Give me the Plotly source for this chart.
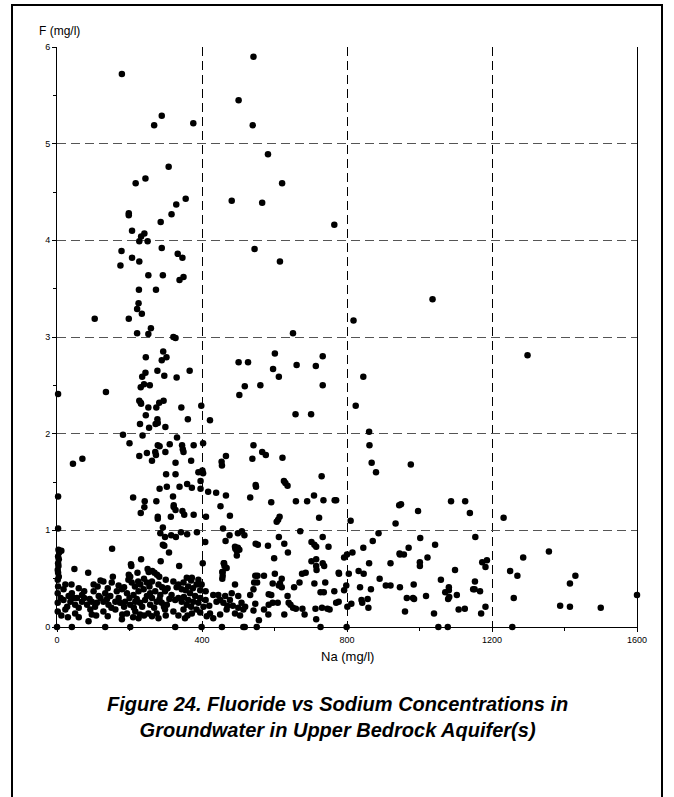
import plotly.graph_objects as go

# Upper scatter (F > ~2)
na_upper = [179,268,289,376,501,308,244,217,355,329,482,198,198,316,286,207,
            542,540,582,621,566,765,
            241,232,227,250,289,178,333,346,207,227,175,252,292,349,338,226,273,225,221,234,104,198,
            259,221,252,321,327,293,245,302,289,501,277,366,244,296,235,330,240,256,231,3,135,503,
            227,231,232,282,294,252,274,343,398,245,277,361,422,
            545,615,818,651,601,733,527,661,714,596,612,845,518,561,733,824,658,701,
            1036,1298]
f_upper = [5.72,5.19,5.29,5.21,5.45,4.76,4.64,4.59,4.43,4.37,4.41,4.28,4.26,4.27,4.19,4.10,
           5.90,5.19,4.89,4.59,4.39,4.16,
           4.07,4.04,3.99,3.99,3.92,3.89,3.86,3.82,3.82,3.78,3.74,3.64,3.64,3.62,3.59,3.49,3.49,3.35,3.29,3.24,3.19,3.19,
           3.09,3.04,3.03,3.00,2.99,2.85,2.79,2.79,2.76,2.74,2.65,2.65,2.63,2.60,2.59,2.58,2.51,2.50,2.48,2.41,2.43,2.40,
           2.34,2.32,2.31,2.32,2.34,2.27,2.27,2.27,2.29,2.19,2.15,2.15,2.14,
           3.91,3.78,3.17,3.04,2.83,2.80,2.74,2.71,2.70,2.67,2.59,2.59,2.49,2.50,2.50,2.29,2.20,2.20,
           3.39,2.81]

# Middle band (F ~0.5 - 2.1), Na < 520
na_mid = [229,254,272,278,299,182,236,200,331,403,278,283,311,345,377,347,349,248,271,273,299,227,
          44,70,262,370,466,454,455,327,301,327,390,401,403,396,396,359,303,283,338,372,417,439,
          210,466,3,320,242,241,274,322,322,231,327,346,351,377,411,314,278,278,451,477,3,292,458,
          285,298,315,328,342,359,386,476,499,465,409,292,296,152,492,496,309,
          4,6,3,5,3,4,2,3,5,2,3,2,12,
          460,462,286,232,204,205,402,337,457,457,48,86,250,253,263,269,276,282,198,202,
          510,517,461,468,456,456,491,499,503,496]
f_mid = [2.10,2.06,2.10,2.11,2.07,1.99,1.98,1.90,1.96,1.90,1.88,1.87,1.89,1.88,1.88,1.84,1.81,1.80,1.81,1.78,1.81,1.77,
         1.69,1.74,1.72,1.72,1.77,1.71,1.67,1.70,1.58,1.58,1.60,1.62,1.59,1.51,1.43,1.48,1.45,1.43,1.45,1.44,1.40,1.39,
         1.34,1.36,1.35,1.35,1.30,1.24,1.30,1.26,1.24,1.18,1.21,1.20,1.16,1.16,1.14,1.14,1.14,1.12,1.25,1.15,1.02,1.03,1.02,
         0.97,0.93,0.95,0.93,0.98,0.96,0.98,0.95,0.97,0.89,0.88,0.85,0.84,0.81,0.81,0.79,0.77,
         0.80,0.77,0.73,0.70,0.66,0.63,0.59,0.56,0.52,0.49,0.42,0.35,0.79,
         0.66,0.63,0.68,0.70,0.65,0.63,0.66,0.63,0.57,0.53,0.60,0.56,0.60,0.57,0.58,0.56,0.54,0.52,0.54,0.52,
         0.99,0.95,0.66,0.61,0.57,0.50,0.83,0.82,0.80,0.74]

# Dense low cluster (F < 0.6), Na < 530
na_low = [222,154,358,372,
          23,101,128,151,197,206,224,248,262,280,321,335,349,362,385,399,491,
          18,32,41,55,69,101,115,133,147,165,179,193,211,225,239,248,257,271,285,298,316,344,367,381,431,445,464,482,500,
          18,2,37,50,69,83,96,110,128,142,161,174,188,202,216,229,243,257,275,289,303,326,344,358,376,390,404,440,459,477,509,519,
          2,23,50,92,96,128,161,193,216,229,252,275,298,321,349,372,385,422,468,491,514,
          87,179,225,280,353,413,431,
          0,41,133,202,326,399,455,514,
          10,28,45,60,75,90,105,120,138,150,170,185,200,212,220,235,262,268,283,295,310,335,350,362,370,395,410,420,450,470,485,500,
          12,30,60,108,140,180,210,240,262,300,335,360,395,450,505,
          112,140,170,185,215,230,255,290,305,330,355,375,395,410,60,75,40,120,240,300,370,390]
f_low = [0.56,0.52,0.51,0.51,
         0.44,0.44,0.47,0.46,0.49,0.46,0.47,0.46,0.47,0.44,0.47,0.44,0.46,0.42,0.44,0.44,0.44,
         0.39,0.32,0.35,0.30,0.33,0.37,0.32,0.35,0.32,0.37,0.39,0.35,0.33,0.37,0.39,0.32,0.35,0.37,0.33,0.37,0.33,0.39,0.35,0.32,0.33,0.33,0.32,0.35,0.32,
         0.28,0.25,0.26,0.23,0.26,0.23,0.26,0.25,0.26,0.23,0.26,0.25,0.26,0.23,0.26,0.25,0.28,0.23,0.26,0.25,0.23,0.28,0.26,0.23,0.26,0.25,0.21,0.26,0.25,0.28,0.25,0.21,
         0.16,0.18,0.14,0.18,0.13,0.16,0.18,0.14,0.16,0.13,0.14,0.14,0.18,0.16,0.18,0.14,0.18,0.14,0.18,0.14,0.18,
         0.06,0.08,0.09,0.09,0.09,0.11,0.09,
         0.0,0.0,0.0,0.0,0.0,0.0,0.0,0.0,
         0.30,0.21,0.30,0.20,0.30,0.29,0.21,0.30,0.29,0.20,0.30,0.21,0.30,0.20,0.29,0.21,0.30,0.20,0.29,0.21,0.29,0.30,0.31,0.28,0.21,0.30,0.28,0.22,0.28,0.22,0.22,0.20,
         0.12,0.10,0.10,0.12,0.11,0.13,0.10,0.12,0.11,0.12,0.12,0.12,0.15,0.13,0.12,
         0.42,0.40,0.43,0.41,0.42,0.44,0.42,0.41,0.40,0.41,0.38,0.40,0.38,0.37,0.40,0.37,0.44,0.48,0.50,0.49,0.48,0.49]

# Na 530 - 950 range
na_right = [542,539,566,576,622,548,549,533,591,626,630,636,659,690,709,730,735,766,770,
            610,606,614,671,723,810,944,934,612,548,554,582,627,637,702,710,715,733,749,
            599,702,715,715,733,737,716,777,792,800,815,845,871,887,861,920,945,
            861,862,868,880,
            547,553,571,601,620,615,595,544,552,542,533,584,591,612,620,636,669,654,676,686,
            710,727,736,765,740,778,792,798,805,832,846,836,866,890,907,920,
            547,542,557,571,584,595,609,583,627,639,644,659,677,651,683,713,715,731,746,752,
            770,777,801,812,842,840,859,857,
            518,551,727,799]
f_right = [1.88,1.74,1.81,1.78,1.75,1.47,1.45,1.34,1.29,1.51,1.49,1.46,1.30,1.30,1.36,1.56,1.31,1.31,1.31,
           1.11,1.09,1.14,0.99,1.13,1.10,1.26,1.07,0.93,0.86,0.85,0.84,0.86,0.77,0.88,0.85,0.83,0.93,0.83,
           0.71,0.68,0.70,0.63,0.66,0.63,0.59,0.56,0.72,0.75,0.77,0.82,0.89,0.97,0.66,0.66,0.76,
           2.02,1.88,1.70,1.60,
           0.53,0.53,0.53,0.55,0.50,0.45,0.45,0.46,0.46,0.39,0.33,0.34,0.33,0.43,0.41,0.32,0.46,0.41,0.55,0.56,
           0.45,0.36,0.36,0.37,0.46,0.55,0.38,0.43,0.55,0.58,0.55,0.41,0.39,0.50,0.43,0.43,
           0.24,0.17,0.07,0.18,0.23,0.25,0.25,0.13,0.13,0.25,0.23,0.19,0.19,0.20,0.13,0.19,0.08,0.20,0.19,0.18,
           0.25,0.26,0.21,0.24,0.25,0.28,0.20,0.29,
           0.0,0.0,0.0,0.0]

# Na > 940
na_far = [976,949,996,1087,1126,1139,1232,1002,1154,970,1043,946,957,1357,1286,1022,1001,1001,
          1173,1186,1182,1098,1250,1270,1430,1415,1059,1153,984,946,1081,1081,1071,1148,1152,1167,
          1103,1082,1079,1018,965,982,985,1260,960,1040,1108,1125,1170,1182,1388,1415,1500,1600,
          1052,1078,1256]
f_far = [1.68,1.27,1.20,1.30,1.30,1.18,1.13,0.92,0.93,0.82,0.85,0.75,0.75,0.78,0.72,0.72,0.67,0.63,
         0.67,0.69,0.62,0.59,0.58,0.53,0.53,0.45,0.49,0.47,0.44,0.41,0.41,0.38,0.36,0.39,0.39,0.37,
         0.33,0.31,0.29,0.32,0.30,0.30,0.29,0.30,0.16,0.14,0.18,0.19,0.14,0.21,0.22,0.21,0.20,0.33,
         0.0,0.0,0.0]

na = na_upper + na_mid + na_low + na_right + na_far
f = f_upper + f_mid + f_low + f_right + f_far

x_ticks = [0, 400, 800, 1200, 1600]
y_ticks = [0, 1, 2, 3, 4, 5, 6]

FONT = "Liberation Sans, Arial, sans-serif"
W, H = 674, 797
L, R, T, B = 57, 37, 47, 170
PW, PH = W - L - R, H - T - B

def px_x(p):
    return (p - L) / PW

def px_y(p):
    return 1 - (p - T) / PH

fig = go.Figure()
fig.add_trace(go.Scatter(
    x=na, y=f, mode="markers",
    marker=dict(color="black", size=6.5, line=dict(width=0)),
    cliponaxis=False, showlegend=False, hoverinfo="x+y"))

fig.update_layout(
    width=W, height=H,
    margin=dict(l=L, r=R, t=T, b=B, autoexpand=False),
    paper_bgcolor="white", plot_bgcolor="white",
    font=dict(family=FONT, color="black", size=9),
    xaxis=dict(range=[0, 1600], tickvals=x_ticks, ticktext=[str(v) for v in x_ticks],
               showline=True, linecolor="black", linewidth=1, mirror=False,
               ticks="outside", ticklen=4, tickcolor="black", tickfont=dict(size=9),
               showgrid=True, gridcolor="black", gridwidth=1, griddash="9px,5px",
               zeroline=False,
               minor=dict(dtick=200, tick0=0, ticks="outside", ticklen=3, tickcolor="black", showgrid=False)),
    yaxis=dict(range=[0, 6], tickvals=y_ticks, ticktext=[str(v) for v in y_ticks],
               showline=True, linecolor="black", linewidth=1, mirror=True,
               ticks="outside", ticklen=4, tickcolor="black", tickfont=dict(size=9),
               showgrid=True, gridcolor="#555555", gridwidth=1, griddash="9px,5px",
               zeroline=False,
               minor=dict(dtick=0.5, tick0=0, ticks="outside", ticklen=3, tickcolor="black", showgrid=False)),
)

fig.add_annotation(text="F (mg/l)", xref="paper", yref="paper",
                   x=px_x(37), y=px_y(40), xanchor="left", yanchor="bottom",
                   showarrow=False, font=dict(size=12, family=FONT))
fig.add_annotation(text="Na (mg/l)", xref="paper", yref="paper",
                   x=0.5, y=px_y(656), xanchor="center", yanchor="middle",
                   showarrow=False, font=dict(size=13, family=FONT))
fig.add_annotation(text="<b><i>Figure 24. Fluoride vs Sodium Concentrations in<br>Groundwater in Upper Bedrock Aquifer(s)</i></b>",
                   xref="paper", yref="paper", x=px_x(337), y=px_y(717),
                   xanchor="center", yanchor="middle", showarrow=False,
                   font=dict(size=20, family=FONT))
fig.add_shape(type="rect", xref="paper", yref="paper",
              x0=px_x(12), x1=px_x(662), y0=px_y(5), y1=px_y(800),
              line=dict(color="black", width=2), fillcolor="rgba(0,0,0,0)", layer="above")

fig.write_html("out.html", config={"displayModeBar": False},
               post_script="document.body.style.margin='0';document.body.style.overflow='hidden';")
